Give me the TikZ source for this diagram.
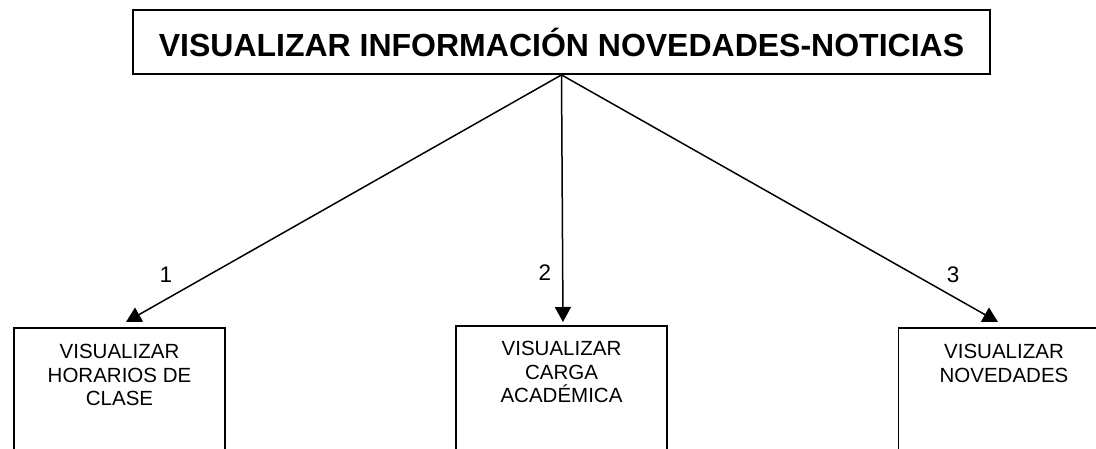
\documentclass[tikz,border=0pt]{standalone}
\usepackage{fontspec}
\setmainfont{Liberation Sans}
\usetikzlibrary{arrows.meta,positioning}

\tikzset{
  caja/.style={draw, line width=1.8pt, minimum width=211pt, minimum height=140pt, inner sep=0pt, anchor=north},
  texto/.style={align=center, inner sep=0pt, font=\fontsize{20.5}{23.5}\selectfont},
  num/.style={inner sep=0pt, font=\fontsize{22.5}{26}\selectfont},
  flecha/.style={line width=1.5pt, -{Triangle[length=15pt,width=16pt]}}
}

\begin{document}
\begin{tikzpicture}[x=1pt, y=-1pt]
\useasboundingbox (0,0) rectangle (1096,448);
\clip (0,0) rectangle (1096,448);
% modulo principal
\node[draw, line width=1.8pt, minimum width=857pt, minimum height=64pt, inner sep=0pt,
      font=\bfseries\fontsize{32}{36}\selectfont] (titulo) at (561.5,42)
      {VISUALIZAR INFORMACIÓN NOVEDADES-NOTICIAS};
% submodulos (cortados por el borde inferior)
\node[caja] (horarios) at (119.5,327) {};
\node[caja] (carga) at (561.5,325) {};
\node[caja] (novedades) at (1004,327) {};
\node[texto, below=17pt of horarios.north] (thorarios) {VISUALIZAR\\HORARIOS DE\\CLASE};
\node[texto, below=16pt of carga.north] (tcarga) {VISUALIZAR\\CARGA\\ACADÉMICA};
\node[texto, below=17pt of novedades.north] (tnovedades) {VISUALIZAR\\NOVEDADES};
% flechas numeradas
\draw[flecha] (titulo.south) -- ([xshift=6.5pt,yshift=5pt]horarios.north);
\draw[flecha] (titulo.south) -- ([xshift=1.5pt,yshift=3pt]carga.north);
\draw[flecha] (titulo.south) -- ([xshift=-6pt,yshift=5pt]novedades.north);
\node[num] (n1) at (166,275) {1};
\node[num] (n2) at (545,273) {2};
\node[num] (n3) at (953,275) {3};
\end{tikzpicture}
\end{document}
